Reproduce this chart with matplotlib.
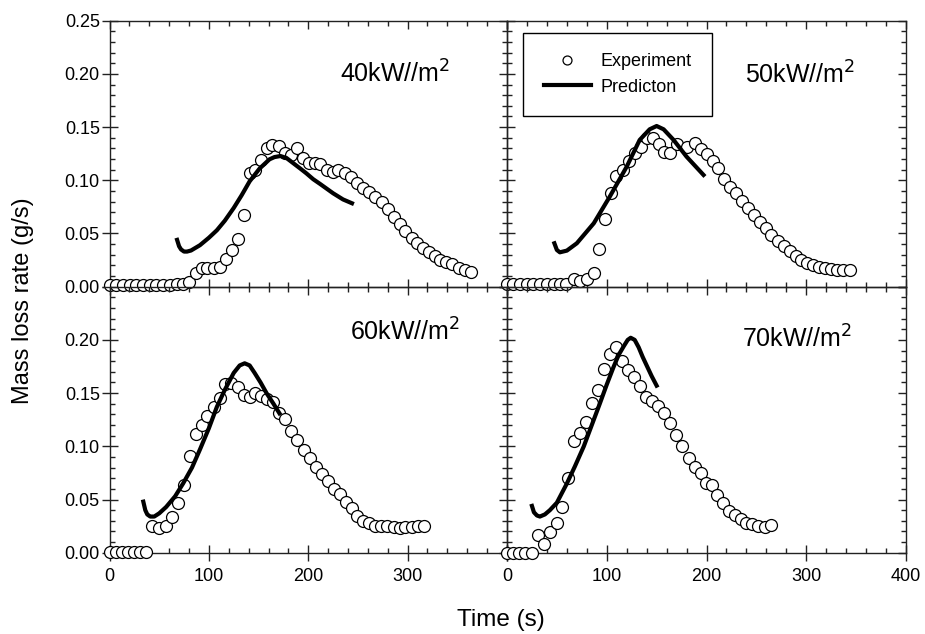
#!/usr/bin/env python3
# mass loss rate vs time, experiment vs prediction, four heat fluxes
import numpy as np
import matplotlib
matplotlib.use('Agg')
import matplotlib.pyplot as plt
from matplotlib.ticker import MultipleLocator

plt.rcParams['font.family'] = ['Liberation Sans', 'DejaVu Sans']

#--------------------------------------------------
# data
# 40 kW/m2
t40e = [0, 7, 14, 21, 27, 34, 41, 47, 54, 61, 68, 74, 80, 87, 93, 98, 105, 111, 117, 123,
        129, 135, 141, 146, 152, 158, 164, 171, 177, 183, 189, 195, 201, 207, 212, 219, 225, 230, 237, 243,
        249, 255, 261, 267, 274, 280, 286, 292, 297, 304, 309, 315, 322, 328, 333, 339, 345, 352, 358, 364]
m40e = [0.0016, 0.0016, 0.0016, 0.0016, 0.0016, 0.0016, 0.0016, 0.0016, 0.0016, 0.0016,
        0.0022, 0.0029, 0.0041, 0.0126, 0.0173, 0.0173, 0.0173, 0.0188, 0.0257, 0.0345,
        0.0445, 0.0674, 0.1066, 0.1097, 0.1191, 0.1301, 0.1332, 0.1326, 0.1254, 0.1238,
        0.1301, 0.1207, 0.1166, 0.1160, 0.1150, 0.1097, 0.1081, 0.1097, 0.1066, 0.1028,
        0.0972, 0.0925, 0.0893, 0.0846, 0.0799, 0.0727, 0.0658, 0.0589, 0.0526, 0.0461,
        0.0414, 0.0367, 0.0329, 0.0289, 0.0251, 0.0235, 0.0210, 0.0173, 0.0157, 0.0141]
t40p = [68, 70, 72, 75, 78, 82, 91, 100, 108, 116, 125, 133, 141, 151, 161, 166, 172, 178, 185,
        192, 198, 205, 212, 225, 235, 244]
m40p = [0.044, 0.038, 0.035, 0.033, 0.033, 0.034, 0.039, 0.046, 0.053, 0.062, 0.074, 0.086, 0.099,
        0.111, 0.1197, 0.1218, 0.1228, 0.121, 0.116, 0.111, 0.1066, 0.101, 0.0965, 0.0878, 0.082, 0.0784]

# 50 kW/m2
t50e = [0, 6, 13, 20, 26, 33, 40, 47, 53, 59, 67, 73, 80, 87, 92, 98, 104, 109, 116, 122,
        128, 134, 140, 146, 152, 157, 163, 170, 180, 188, 194, 200, 206, 212, 218, 224, 230, 236, 242, 248,
        254, 260, 265, 272, 278, 284, 290, 295, 301, 307, 313, 319, 325, 331, 337, 344]
m50e = [0.0023, 0.0023, 0.0023, 0.0023, 0.0023, 0.0023, 0.0023, 0.0023, 0.0023, 0.0023,
        0.0069, 0.0054, 0.0069, 0.0126, 0.0351, 0.0633, 0.0884, 0.104, 0.1097, 0.1184,
        0.1254, 0.1316, 0.1395, 0.140, 0.1338, 0.1269, 0.126, 0.1341, 0.1316, 0.1354,
        0.1291, 0.1247, 0.1182, 0.1113, 0.1012, 0.0934, 0.0884, 0.0808, 0.0737, 0.0674,
        0.0611, 0.0549, 0.0486, 0.0432, 0.0385, 0.0338, 0.0289, 0.0251, 0.022, 0.0204,
        0.0188, 0.0173, 0.0163, 0.0157, 0.0157, 0.0157]
t50p = [47.5, 50, 53, 60, 70, 87, 103, 120, 133, 143, 150, 157, 167, 180, 197]
m50p = [0.0408, 0.0345, 0.0323, 0.0339, 0.0408, 0.0596, 0.0846, 0.1128, 0.1379, 0.1479, 0.151,
        0.1479, 0.1379, 0.1222, 0.105]

# 60 kW/m2
t60e = [0, 7, 13, 19, 25, 31, 37, 43, 50, 57, 63, 69, 75, 81, 87, 93, 98,
        105, 111, 116, 122, 129, 135, 141, 146, 152, 158, 165, 171, 177, 183, 189, 196, 202, 208, 214, 220,
        226, 232, 238, 244, 249, 255, 261, 267, 273, 279, 286, 292, 297, 304, 310, 316]
m60e = [0.001, 0.001, 0.001, 0.001, 0.001, 0.001, 0.001,
        0.0251, 0.0229, 0.0251, 0.0338, 0.0464, 0.0636, 0.0912, 0.1116, 0.1197, 0.1285,
        0.1372, 0.1451, 0.1586, 0.1592, 0.156, 0.1482, 0.146, 0.1498, 0.1473, 0.1442,
        0.1419, 0.1316, 0.1254, 0.1147, 0.1059, 0.0965, 0.0887, 0.0803, 0.074, 0.0674,
        0.0596, 0.0549, 0.0479, 0.0417, 0.0345, 0.0301, 0.0276, 0.0254, 0.0251, 0.0251,
        0.0245, 0.0235, 0.0245, 0.0245, 0.0251, 0.0251]
t60p = [34, 36, 38, 41, 45, 50, 57, 66, 74, 83, 91, 100, 108, 116, 125, 131, 136, 141, 146, 152,
        158, 165, 171]
m60p = [0.048, 0.040, 0.036, 0.034, 0.034, 0.037, 0.043, 0.053, 0.065, 0.080, 0.097, 0.117, 0.137,
        0.153, 0.169, 0.176, 0.178, 0.176, 0.169, 0.160, 0.150, 0.140, 0.131]

# 70 kW/m2
t70e = [0, 6, 12, 18, 25, 31, 37, 43, 50, 55, 61, 67, 73, 79, 85,
        91, 97, 103, 109, 115, 121, 127, 133, 139, 145, 151, 157, 163, 169, 175, 182, 188, 194, 199, 205,
        211, 217, 223, 229, 235, 240, 246, 252, 259, 265]
m70e = [0.0, 0.0, 0.0, 0.0, 0.0,
        0.0166, 0.0079, 0.0192, 0.0276, 0.0427, 0.0705, 0.1053, 0.1128, 0.1231, 0.1404,
        0.1529, 0.1724, 0.1867, 0.193, 0.1802, 0.1717, 0.1648, 0.1567, 0.146, 0.1429,
        0.1379, 0.131, 0.1222, 0.1106, 0.1006, 0.0893, 0.0808, 0.0746, 0.0658, 0.0636,
        0.0542, 0.0464, 0.0395, 0.0354, 0.0314, 0.0282, 0.0267, 0.0251, 0.0245, 0.026]
t70p = [25, 27, 30, 33, 38, 43, 50, 60, 68, 77, 85, 93, 100, 107, 112, 117, 121, 124, 128, 132,
        136, 140, 145, 150]
m70p = [0.044, 0.038, 0.035, 0.034, 0.036, 0.040, 0.047, 0.065, 0.081, 0.100, 0.120, 0.140, 0.158,
        0.175, 0.186, 0.194, 0.200, 0.202, 0.200, 0.193, 0.184, 0.176, 0.166, 0.157]

labels = [r'40kW//m$^2$', r'50kW//m$^2$', r'60kW//m$^2$', r'70kW//m$^2$']
xTicks = [0, 100, 200, 300, 400]
yTicks = [0.00, 0.05, 0.10, 0.15, 0.20, 0.25]

#--------------------------------------------------
# figure and panel layout (no gaps between panels)
fig = plt.figure(figsize=(9.25, 6.34), dpi=100)
x0, xm, x1 = 0.1184, 0.5481, 0.9795
y0, ym, y1 = 0.1282, 0.5478, 0.9674
ax1 = fig.add_axes([x0, ym, xm-x0, y1-ym])
ax2 = fig.add_axes([xm, ym, x1-xm, y1-ym])
ax3 = fig.add_axes([x0, y0, xm-x0, ym-y0])
ax4 = fig.add_axes([xm, y0, x1-xm, ym-y0])
axs = [ax1, ax2, ax3, ax4]

exps = [(t40e, m40e), (t50e, m50e), (t60e, m60e), (t70e, m70e)]
pres = [(t40p, m40p), (t50p, m50p), (t60p, m60p), (t70p, m70p)]
txtPos = [(232, 0.1914), (239, 0.191), (242, 0.199), (236, 0.1927)]

for i, ax in enumerate(axs):
    ax.patch.set_visible(False)
    te, me = exps[i]
    tp, mp = pres[i]
    ax.plot(te, me, 'o', ms=8.6, mfc='white', mec='black', mew=0.9, clip_on=False,
            zorder=3, label='Experiment')
    ax.plot(tp, mp, '-', color='black', lw=3.0, zorder=4, label='Predicton')
    ax.text(txtPos[i][0], txtPos[i][1], labels[i], fontsize=18, ha='left', va='baseline')
    ax.set_xlim(0, 400)
    ax.set_ylim(0, 0.25)
    ax.set_xticks(xTicks)
    ax.set_yticks(yTicks)
    ax.xaxis.set_minor_locator(MultipleLocator(20))
    ax.yaxis.set_minor_locator(MultipleLocator(0.01))
    ax.tick_params(which='both', direction='in', top=True, right=True, width=1.0, color='#222222',
                   labelsize=13)
    ax.tick_params(which='major', length=6)
    ax.tick_params(which='minor', length=3.5)
    ax.tick_params(axis='x', pad=11)
    ax.tick_params(axis='y', pad=7)
    for s in ax.spines.values():
        s.set_linewidth(1.0)
        s.set_color('#222222')
    # x tick labels only on bottom row, y tick labels only on left column
    if i in [0, 1]:
        ax.set_xticklabels([])
    elif i == 2:
        ax.set_xticklabels(['0', '100', '200', '300', ''])
    else:
        ax.set_xticklabels(['0', '100', '200', '300', '400'])
    if i == 0:
        ax.set_yticklabels(['0.00', '0.05', '0.10', '0.15', '0.20', '0.25'])
    elif i == 2:
        ax.set_yticklabels(['0.00', '0.05', '0.10', '0.15', '0.20', ''])
    else:
        ax.set_yticklabels([])
    # outer major ticks cross the axis (in and out)
    if i in [2, 3]:
        for tk in ax.xaxis.get_major_ticks():
            tk.tick1line.set_marker('|')
            tk.tick1line.set_markersize(12)
    if i in [0, 2]:
        for tk in ax.yaxis.get_major_ticks():
            tk.tick1line.set_marker('_')
            tk.tick1line.set_markersize(12)

#--------------------------------------------------
# legend in the 50 kW panel
leg = ax2.legend(loc='upper left', bbox_to_anchor=(0.04, 0.955), borderaxespad=0, fontsize=13,
                 frameon=True, fancybox=False, edgecolor='black', framealpha=1, borderpad=1.15,
                 handlelength=2.6, handletextpad=0.55, labelspacing=0.45, markerscale=0.75)
leg.get_frame().set_linewidth(1.0)

fig.text(0.025, 0.526, 'Mass loss rate (g/s)', rotation=90, fontsize=17, ha='center', va='center')
fig.text(0.5416, 0.022, 'Time (s)', fontsize=17.5, ha='center', va='center')

fig.savefig('out.png', dpi=100)
